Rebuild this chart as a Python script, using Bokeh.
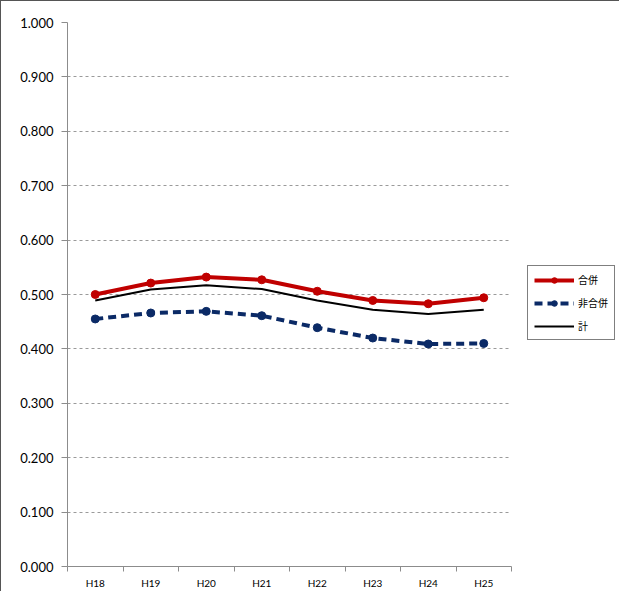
from bokeh.plotting import figure
from bokeh.models import FixedTicker, Legend, LegendItem, Range1d, NumeralTickFormatter
from bokeh.embed import file_html
from bokeh.resources import INLINE

categories = ["H18", "H19", "H20", "H21", "H22", "H23", "H24", "H25"]
gappei = [0.500, 0.521, 0.532, 0.527, 0.506, 0.489, 0.483, 0.494]
hi_gappei = [0.455, 0.466, 0.469, 0.461, 0.439, 0.420, 0.409, 0.410]
total = [0.489, 0.509, 0.517, 0.510, 0.489, 0.472, 0.464, 0.472]
y_ticks = [0.0, 0.1, 0.2, 0.3, 0.4, 0.5, 0.6, 0.7, 0.8, 0.9, 1.0]

xs = [i + 0.5 for i in range(len(categories))]

p = figure(frame_width=444, frame_height=544,
           output_backend="svg", toolbar_location=None,
           x_range=Range1d(0, len(categories)), y_range=Range1d(0, 1.0),
           min_border_left=66, min_border_top=21, min_border_bottom=22,
           min_border_right=0)
p.styles = {"border-left": "1px solid #555", "border-top": "1px solid #555"}
p.outline_line_color = None
p.background_fill_color = "white"
p.border_fill_color = "white"

# grid
p.xgrid.visible = False
p.ygrid.ticker = FixedTicker(ticks=y_ticks[1:])
p.ygrid.grid_line_color = "#9a9a9a"
p.ygrid.grid_line_dash = "3 3"
p.ygrid.grid_line_width = 1

# y axis
p.yaxis.ticker = FixedTicker(ticks=y_ticks)
p.yaxis.formatter = NumeralTickFormatter(format="0.000")
p.yaxis.axis_line_color = "#8c8c8c"
p.yaxis.major_tick_line_color = "#8c8c8c"
p.yaxis.major_tick_out = 6
p.yaxis.major_tick_in = 0
p.yaxis.minor_tick_line_color = None
p.yaxis.major_label_text_font = "Lato"
p.yaxis.major_label_text_font_size = "13px"
p.yaxis.major_label_text_color = "#000000"
p.yaxis.major_label_standoff = 8

# x axis: labels at category centres, ticks at boundaries
p.xaxis.ticker = FixedTicker(ticks=xs, minor_ticks=list(range(len(categories) + 1)))
p.xaxis.major_label_overrides = {x: c for x, c in zip(xs, categories)}
p.xaxis.axis_line_color = "#8c8c8c"
p.xaxis.major_tick_line_color = None
p.xaxis.minor_tick_line_color = "#8c8c8c"
p.xaxis.minor_tick_out = 5
p.xaxis.minor_tick_in = 0
p.xaxis.major_label_text_font = "Lato"
p.xaxis.major_label_text_font_size = "10px"
p.xaxis.major_label_text_color = "#000000"
p.xaxis.major_label_standoff = 4

red = "#C00000"
navy = "#0B2A66"

r1 = p.line(xs, gappei, line_color=red, line_width=4)
r1m = p.scatter(xs, gappei, size=8, fill_color=red, line_color=red)
r2 = p.line(xs, hi_gappei, line_color=navy, line_width=4, line_dash="8 5")
r2m = p.scatter(xs, hi_gappei, size=8, fill_color=navy, line_color=navy, marker="circle")
r3 = p.line(xs, total, line_color="black", line_width=2)

legend = Legend(items=[
    LegendItem(label="合併", renderers=[r1, r1m]),
    LegendItem(label="非合併", renderers=[r2, r2m]),
    LegendItem(label="計", renderers=[r3]),
], location=(0, 226))
legend.label_text_font = "Noto Sans CJK JP"
legend.label_text_font_size = "10px"
legend.label_text_color = "#000000"
legend.border_line_color = "#000000"
legend.border_line_width = 1
legend.glyph_width = 40
legend.glyph_height = 14
legend.label_standoff = 4
legend.spacing = 8
legend.padding = 6
legend.margin = 0
legend.label_width = 28
legend.background_fill_alpha = 1
p.add_layout(legend, "right")
p.min_border_right = 0
p.min_border_left = 66
p.frame_width = 444
# gap between the plot frame and the legend box
p.extra_x_ranges = {}
legend.location = (16, 226)

open("out.html", "w").write(file_html(p, INLINE))
